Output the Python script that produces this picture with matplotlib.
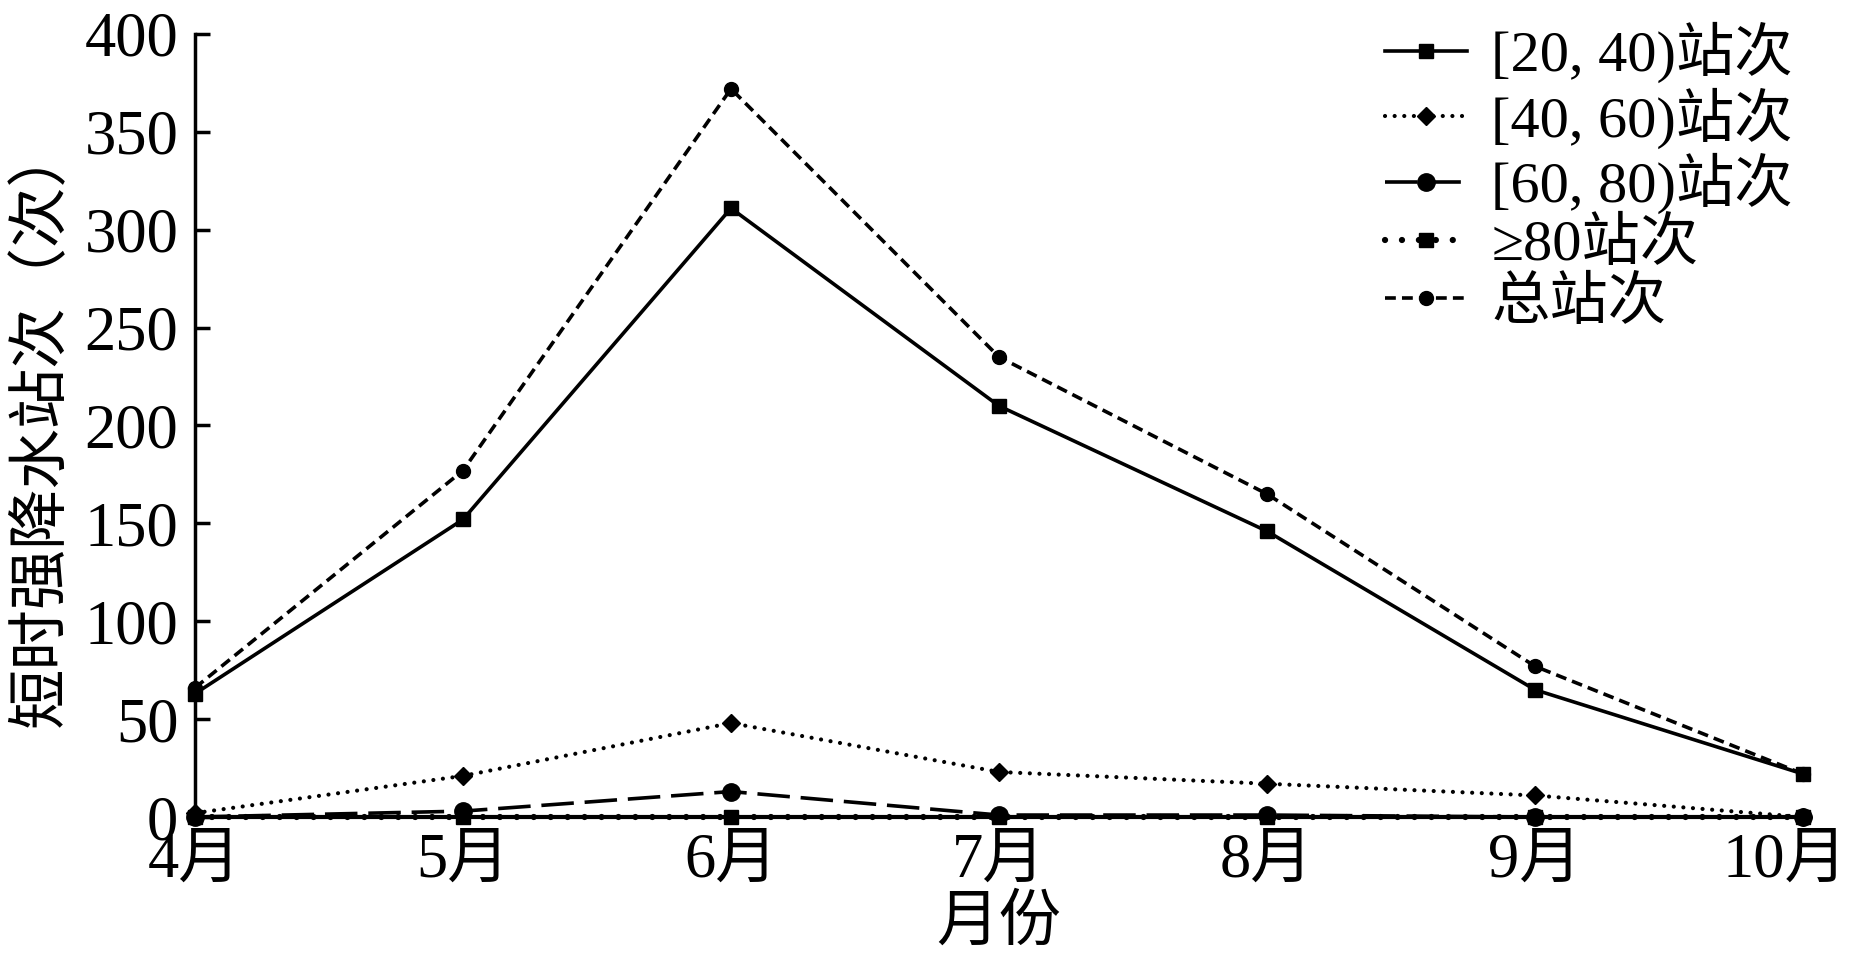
import matplotlib
matplotlib.use("Agg")
import matplotlib.pyplot as plt
import matplotlib.transforms as mtransforms

plt.rcParams['font.family'] = ['Liberation Serif', 'Noto Sans CJK SC']

months = ["4月", "5月", "6月", "7月", "8月", "9月", "10月"]
s20_40 = [63, 152, 311, 210, 146, 65, 22]
s40_60 = [2, 21, 48, 23, 17, 11, 0]
s60_80 = [0, 3, 13, 1, 1, 0, 0]
s80 = [0, 0, 0, 0, 0, 0, 0]
total = [66, 177, 372, 235, 165, 77, 22]
labels = ["[20, 40)站次", "[40, 60)站次", "[60, 80)站次", "≥80站次", "总站次"]
yticks = [0, 50, 100, 150, 200, 250, 300, 350, 400]

W, H = 1858, 957
fig = plt.figure(figsize=(W / 100, H / 100), dpi=100)
ax = fig.add_axes([195 / W, 1 - 817 / H, 1608 / W, 783 / H])
x = list(range(len(months)))

ax.plot(x, s20_40, color='black', lw=2.6, ls='-', marker='s', ms=10.5, label=labels[0])
ax.plot(x, s40_60, color='black', lw=3.0, ls=(0, (0.01, 2.3)), dash_capstyle='round',
        marker='D', ms=9.5, label=labels[1])
ax.plot(x, s60_80, color='black', lw=2.6, ls=(0, (9, 3)), marker='o', ms=12.5, label=labels[2])
ax.plot(x, s80, color='black', lw=4.5, ls=(0, (0.01, 2.7)), dash_capstyle='round',
        marker='s', ms=9.5, label=labels[3])
ax.plot(x, total, color='black', lw=2.6, ls=(0, (3, 1.7)), marker='o', ms=10, label=labels[4])

ax.set_xlim(0, 6)
ax.set_ylim(0, 400)
ax.set_xticks(x)
ax.set_xticklabels(months)
ax.set_yticks(yticks)
ax.tick_params(axis='y', direction='in', length=11, width=2.5, labelsize=45, pad=12)
ax.tick_params(axis='x', length=0, labelsize=45, pad=11)
for side in ['top', 'right']:
    ax.spines[side].set_visible(False)
ax.spines['left'].set_linewidth(2.5)
ax.spines['bottom'].set_linewidth(3)
ax.spines['bottom'].set_zorder(5)
for ln in ax.lines:
    ln.set_clip_on(False)

# nudge the last month label so it stays inside the picture
last = ax.get_xticklabels()[-1]
last.set_transform(last.get_transform() + mtransforms.ScaledTranslation(-18 / 100, 0, fig.dpi_scale_trans))

ax.set_xlabel("月份", fontsize=45, labelpad=4)
ax.set_ylabel("短时强降水站次（次）", fontsize=43.5, labelpad=10)

leg = fig.legend(loc='upper left', bbox_to_anchor=(1385 / W, 1 - 22 / H), fontsize=42, frameon=False,
                 handlelength=1.4, handletextpad=0.42, labelspacing=0.07, borderpad=0, borderaxespad=0)

fig.savefig("out.png", dpi=100)
